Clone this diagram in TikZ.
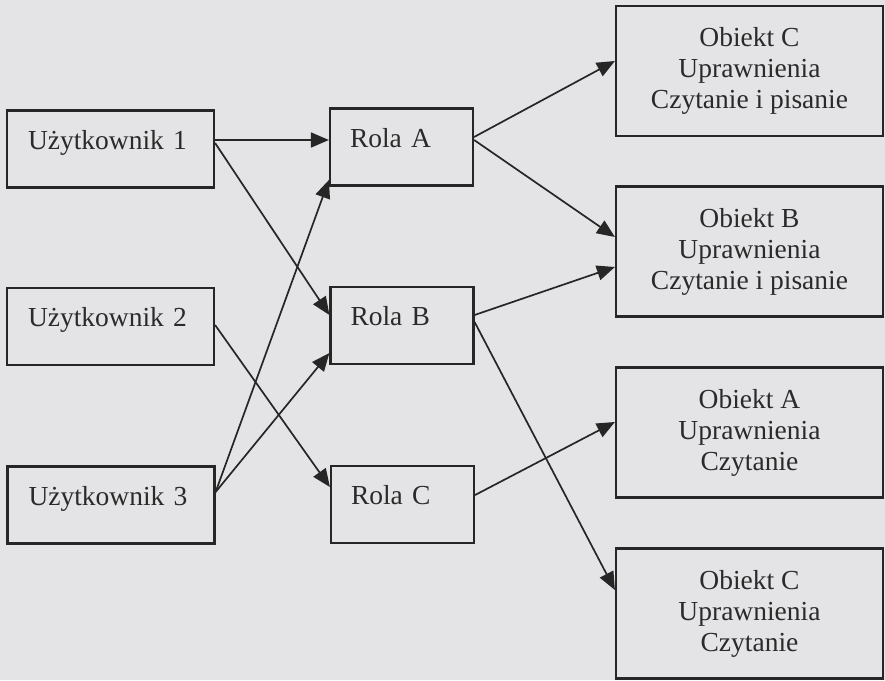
\documentclass[tikz,border=0pt]{standalone}
\usepackage{fontspec}
\setmainfont{Liberation Serif}
\usetikzlibrary{arrows.meta}
\definecolor{bg}{RGB}{228,228,230}
\definecolor{ink}{RGB}{38,38,38}
\definecolor{txt}{RGB}{42,42,42}
\begin{document}
\begin{tikzpicture}[x=1pt,y=-1pt,
  box/.style={draw=ink, line width=2.2pt, rectangle, inner ysep=0pt,
    font=\fontsize{27.5}{31}\selectfont, text=txt},
  lbox/.style={box, inner xsep=20pt, text width=#1, align=left,
    minimum height=77pt, text height=12pt, text depth=12pt},
  obox/.style={box, minimum width=267pt, minimum height=130pt,
    align=center, inner xsep=0pt},
  arr/.style={draw=ink, line width=1.7pt, -{Triangle[length=18pt,width=15pt]}}]
\fill[bg] (0,0) rectangle (885,680);
\useasboundingbox (0,0) rectangle (885,680);
% users
\node[lbox=165pt, inner xsep=21pt] (u1) at (110.5,149) {Użytkownik 1};
\node[lbox=165pt, inner xsep=21pt] (u2) at (110.5,326.5) {Użytkownik 2};
\node[lbox=165pt, inner xsep=21pt] (u3) at (111,505) {Użytkownik 3};
% roles
\node[lbox=103pt] (ra) at (401.5,147) {Rola A};
\node[lbox=103pt] (rb) at (402,325.5) {Rola B};
\node[lbox=103pt] (rc) at (402.5,504.5) {Rola C};
% objects
\node[obox] (oc1) at (749.5,71) {Obiekt C\\Uprawnienia\\Czytanie i pisanie};
\node[obox] (ob) at (749.5,251.5) {Obiekt B\\Uprawnienia\\Czytanie i pisanie};
\node[obox] (oa) at (749.5,432.5) {Obiekt A\\Uprawnienia\\Czytanie};
\node[obox] (oc2) at (749.5,613.5) {Obiekt C\\Uprawnienia\\Czytanie};
% connectors
\draw[arr] ([yshift=9pt]u1.east) -- ([yshift=7pt]ra.west);
\draw[arr] ([yshift=6pt]u1.east) -- ([yshift=10.5pt]rb.west);
\draw[arr] ([yshift=1.5pt]u2.east) -- ([yshift=17.5pt]rc.west);
\draw[arr] ([yshift=13pt]u3.east) -- ([yshift=-33pt]ra.west);
\draw[arr] ([yshift=13pt]u3.east) -- ([yshift=-27.5pt]rb.west);
\draw[arr] ([yshift=10pt]ra.east) -- ([yshift=10pt]oc1.west);
\draw[arr] ([yshift=7pt]ra.east) -- ([yshift=14.5pt]ob.west);
\draw[arr] ([yshift=10.5pt]rb.east) -- ([yshift=-15.5pt]ob.west);
\draw[arr] ([yshift=3.5pt]rb.east) -- ([yshift=23.5pt]oc2.west);
\draw[arr] ([yshift=9.5pt]rc.east) -- ([yshift=10.5pt]oa.west);
\end{tikzpicture}
\end{document}
